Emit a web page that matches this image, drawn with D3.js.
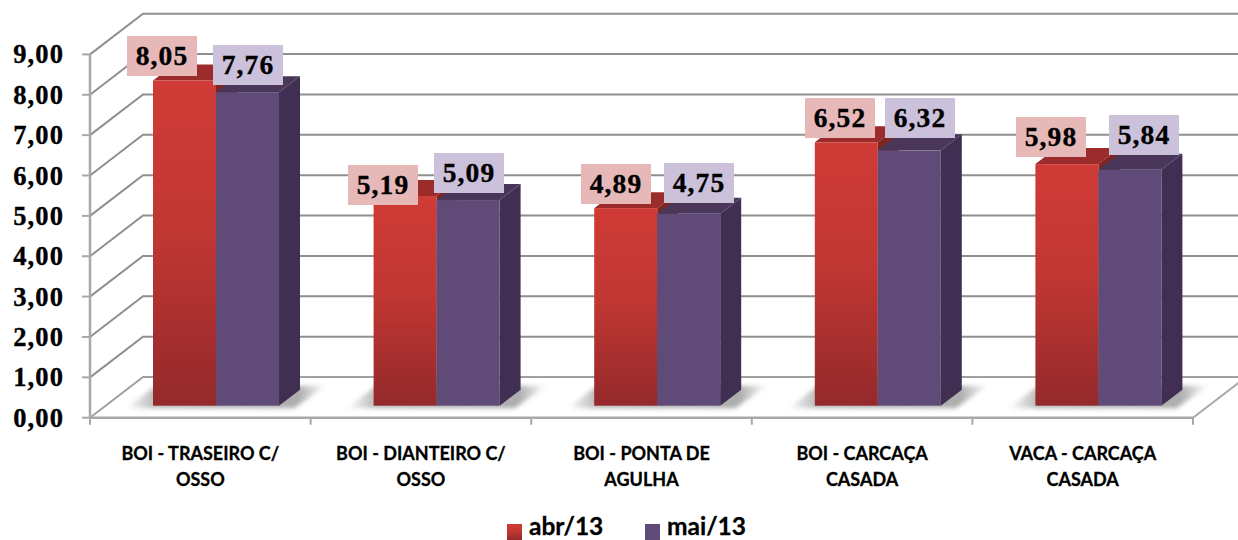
<!DOCTYPE html>
<html><head><meta charset="utf-8">
<script src="https://cdn.jsdelivr.net/npm/d3@7"></script>
<style>html,body{margin:0;padding:0;background:#fff}svg{display:block}</style>
</head><body><svg id="c" width="1238" height="540"></svg>
<script>
const categories=[["BOI - TRASEIRO C/","OSSO"],["BOI - DIANTEIRO C/","OSSO"],["BOI - PONTA DE","AGULHA"],["BOI - CARCAÇA","CASADA"],["VACA - CARCAÇA","CASADA"]];
const seriesNames=["abr/13","mai/13"];
const abr=[8.05,5.19,4.89,6.52,5.98];
const mai=[7.76,5.09,4.75,6.32,5.84];
const yTicks=d3.range(0,10);
const labelBoxesAbr=[[127,36],[348,165],[581,164],[805,98],[1016,117]];
const labelBoxesMai=[[213,45],[434,153],[664,163],[885,98],[1109,115]];

const fmt=v=>v.toFixed(2).replace(".",",");
const svg=d3.select("#c");
const serif="'Liberation Serif',serif", sans="Lato,'Open Sans',sans-serif";
const front={x0:90,x1:1193,yb:417.7,yt:54.4}, wall={dx:53,dy:-40.7};
const y=d3.scaleLinear().domain([0,9]).range([front.yb,front.yt]);
const x=d3.scaleBand().domain(d3.range(categories.length)).range([front.x0,front.x1]);
const barBase=405.7, unit=40.4, barW=63, depth={dx:21,dy:-16};
const yBar=d3.scaleLinear().domain([0,9]).range([barBase,barBase-9*unit]);
const barX=i=>x(i)+63;

const defs=svg.append("defs");
const rg=defs.append("linearGradient").attr("id","red").attr("x1",0).attr("x2",0).attr("y1",0).attr("y2",1);
rg.append("stop").attr("offset",0).attr("stop-color","#CF3B36");
rg.append("stop").attr("offset",.45).attr("stop-color","#C23733");
rg.append("stop").attr("offset",1).attr("stop-color","#94292B");
const sg=defs.append("linearGradient").attr("id","shadow");
[[0,0],[.15,.42],[.86,.48],[1,0]].forEach(([o,a])=>sg.append("stop").attr("offset",o).attr("stop-color","#555").attr("stop-opacity",a));
defs.append("filter").attr("id","blur").attr("x","-10%").attr("y","-30%").attr("width","120%").attr("height","160%")
  .append("feGaussianBlur").attr("stdDeviation",2);

const gridColor="#8f8f8f", axisColor="#a8a8a8";
const gridG=svg.append("g").attr("fill","none").attr("stroke",gridColor).attr("stroke-width",2);
yTicks.forEach(t=>{
  gridG.append("path").attr("stroke",t===0?"#a0a0a0":gridColor)
    .attr("d",`M${front.x0},${y(t)}L${front.x0+wall.dx},${y(t)+wall.dy}L1238,${y(t)+wall.dy}`);
});
gridG.append("path").attr("stroke",axisColor).attr("d",`M${front.x1},${y(0)}L${front.x1+wall.dx},${y(0)+wall.dy}`);
gridG.append("path").attr("stroke",axisColor).attr("stroke-width",2.5).attr("d",`M${front.x0},${y(9)}V${y(0)}H${front.x1}`);
yTicks.forEach(t=>gridG.append("path").attr("stroke",axisColor).attr("d",`M${front.x0-8},${y(t)}H${front.x0}`));
d3.range(categories.length+1).forEach(i=>{
  const px=front.x0+i*x.step();
  gridG.append("path").attr("stroke",axisColor).attr("d",`M${px},${y(0)}V${y(0)+7}`);
});

svg.append("g").selectAll("text").data(yTicks).join("text")
  .attr("x",64).attr("y",t=>y(t)+9).attr("text-anchor","end")
  .attr("font-family",serif).attr("font-weight","bold").attr("font-size",26.5).attr("letter-spacing",1.1)
  .attr("fill","#000").attr("stroke","#000").attr("stroke-width",.35)
  .text(t=>fmt(t));

const shG=svg.append("g").attr("filter","url(#blur)");
categories.forEach((c,i)=>{
  const b=barX(i);
  shG.append("path").attr("fill","url(#shadow)")
    .attr("d",`M${b-27},${barBase+2.5}L${b+barW*2+15},${barBase+2.5}L${b+barW*2+47},${barBase-20}L${b+3},${barBase-20}Z`);
});

function bar(g,i,v,col){
  const b=barX(i)+(col.k*barW), top=yBar(v), d=depth;
  g.append("path").attr("fill",col.top)
    .attr("d",`M${b},${top}l${d.dx},${d.dy}h${barW}l${-d.dx},${-d.dy}Z`);
  g.append("path").attr("fill",col.side)
    .attr("d",`M${b+barW},${top}l${d.dx},${d.dy}V${barBase+d.dy}l${-d.dx},${-d.dy}Z`);
  g.append("rect").attr("x",b).attr("y",top).attr("width",barW).attr("height",barBase-top).attr("fill",col.front);
}
const barsG=svg.append("g");
const cA={k:0,top:"#9B2C2B",side:"#7E2422",front:"url(#red)"}, cM={k:1,top:"#4A3659",side:"#402F52",front:"#5F4A78"};
categories.forEach((c,i)=>{bar(barsG,i,abr[i],cA);bar(barsG,i,mai[i],cM);});

function labels(vals,boxes,fill){
  const g=svg.append("g");
  vals.forEach((v,i)=>{
    const [bx,by]=boxes[i];
    g.append("rect").attr("x",bx).attr("y",by).attr("width",70).attr("height",40).attr("fill",fill);
    g.append("text").attr("x",bx+35).attr("y",by+29).attr("text-anchor","middle")
      .attr("font-family",serif).attr("font-weight","bold").attr("font-size",27.5).attr("letter-spacing",1.1)
      .attr("fill","#000").attr("stroke","#000").attr("stroke-width",.35).text(fmt(v));
  });
}
labels(abr,labelBoxesAbr,"#E6B8B7");
labels(mai,labelBoxesMai,"#CCC1DA");

const catG=svg.append("g").attr("font-family",sans).attr("font-weight","bold").attr("font-size",18).attr("fill","#000").attr("stroke","#000").attr("stroke-width",.3).attr("text-anchor","middle");
categories.forEach((lines,i)=>{
  lines.forEach((l,j)=>catG.append("text").attr("x",x(i)+x.bandwidth()/2).attr("y",460+j*26).text(l));
});

const legend=svg.append("g");
[[507,529,seriesNames[0],"url(#red)"],[645,667,seriesNames[1],"#5F4A78"]].forEach(([sx,tx,n,f])=>{
  legend.append("rect").attr("x",sx).attr("y",524).attr("width",15).attr("height",16).attr("fill",f);
  legend.append("text").attr("x",tx).attr("y",535).attr("font-family",sans).attr("font-weight","bold").attr("font-size",24.5).attr("fill","#000").attr("stroke","#000").attr("stroke-width",.3).text(n);
});
</script></body></html>
